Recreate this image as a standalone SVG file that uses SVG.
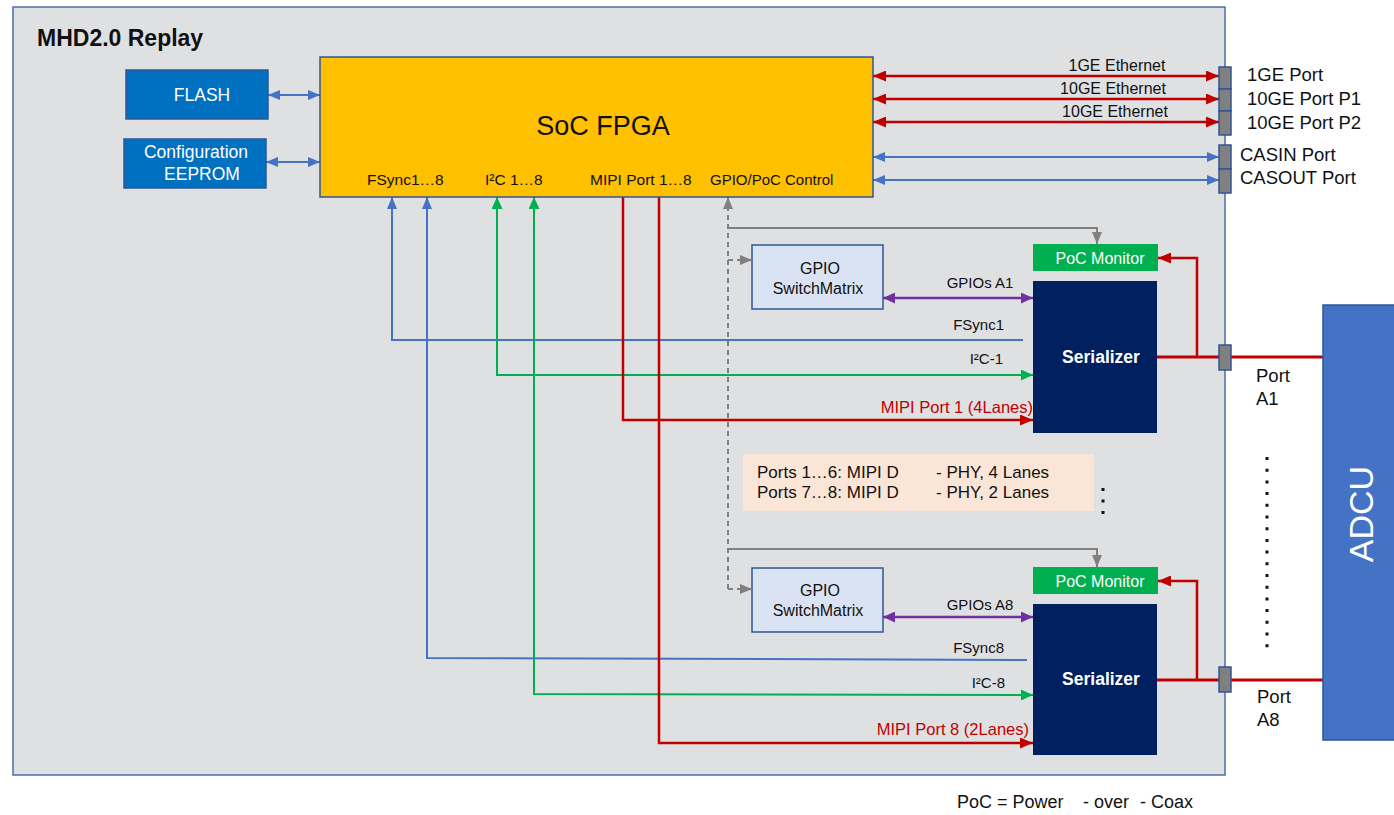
<svg xmlns="http://www.w3.org/2000/svg" width="1394" height="815" viewBox="0 0 1394 815">
  <style>
    text { font-family: "Liberation Sans", Arial, sans-serif; }
    .dark { fill: #111111; }
    .white { fill: #ffffff; }
    .lbl { font-size: 15px; fill: #111111; }
    .port { font-size: 18.5px; fill: #111111; }
    .blu { stroke: #4472c4; stroke-width: 2; fill: none; }
    .red { stroke: #c00000; stroke-width: 2.5; fill: none; }
    .grn { stroke: #00b050; stroke-width: 2; fill: none; }
    .gry { stroke: #808080; stroke-width: 2; fill: none; }
    .pur { stroke: #7030a0; stroke-width: 2.5; fill: none; }
    .conn { fill: #808080; stroke: #2f5597; stroke-width: 1.5; }
  </style>
  <defs>
    <marker id="hBlue" markerUnits="userSpaceOnUse" markerWidth="12" markerHeight="10" refX="12" refY="5" orient="auto-start-reverse"><path d="M0,0 L12,5 L0,10 z" fill="#4472c4"/></marker>
    <marker id="hRed" markerUnits="userSpaceOnUse" markerWidth="13" markerHeight="11" refX="13" refY="5.5" orient="auto-start-reverse"><path d="M0,0 L13,5.5 L0,11 z" fill="#c00000"/></marker>
    <marker id="hGreen" markerUnits="userSpaceOnUse" markerWidth="12" markerHeight="11" refX="12" refY="5.5" orient="auto-start-reverse"><path d="M0,0 L12,5.5 L0,11 z" fill="#00b050"/></marker>
    <marker id="hGray" markerUnits="userSpaceOnUse" markerWidth="12" markerHeight="10" refX="12" refY="5" orient="auto-start-reverse"><path d="M0,0 L12,5 L0,10 z" fill="#808080"/></marker>
    <marker id="hPurple" markerUnits="userSpaceOnUse" markerWidth="12" markerHeight="11" refX="12" refY="5.5" orient="auto-start-reverse"><path d="M0,0 L12,5.5 L0,11 z" fill="#7030a0"/></marker>
  </defs>

  <rect width="1394" height="815" fill="#ffffff"/>

  <!-- board enclosure -->
  <g id="board">
    <rect x="13" y="7" width="1212" height="768" fill="#dfe0e2" stroke="#4a6ea8" stroke-width="1.5"/>
    <text x="37" y="46" font-size="23" font-weight="bold" class="dark">MHD2.0 Replay</text>
  </g>

  <!-- connectors -->
  <g id="connectors">
    <!-- memories -->
    <line x1="268" y1="95" x2="320" y2="95" class="blu" stroke-width="1.5" marker-start="url(#hBlue)" marker-end="url(#hBlue)"/>
    <line x1="266" y1="162" x2="320" y2="162" class="blu" stroke-width="1.5" marker-start="url(#hBlue)" marker-end="url(#hBlue)"/>

    <!-- ethernet and cascade -->
    <line x1="873" y1="76" x2="1219" y2="76" class="red" marker-start="url(#hRed)" marker-end="url(#hRed)"/>
    <line x1="873" y1="99" x2="1219" y2="99" class="red" marker-start="url(#hRed)" marker-end="url(#hRed)"/>
    <line x1="873" y1="122" x2="1219" y2="122" class="red" marker-start="url(#hRed)" marker-end="url(#hRed)"/>
    <line x1="873" y1="157" x2="1219" y2="157" class="blu" marker-start="url(#hBlue)" marker-end="url(#hBlue)"/>
    <line x1="873" y1="180" x2="1219" y2="180" class="blu" marker-start="url(#hBlue)" marker-end="url(#hBlue)"/>

    <!-- FSync -->
    <polyline points="1023,340 392,340 392,197" class="blu" marker-end="url(#hBlue)"/>
    <polyline points="1027,660 427,658 427,197" class="blu" marker-end="url(#hBlue)"/>

    <!-- I2C -->
    <polyline points="1033,375 497,375 497,197" class="grn" marker-start="url(#hGreen)" marker-end="url(#hGreen)"/>
    <polyline points="1033,695 534,694 534,197" class="grn" marker-start="url(#hGreen)" marker-end="url(#hGreen)"/>

    <!-- MIPI -->
    <polyline points="623,197 623,420 1033,420" class="red" stroke-width="2" marker-end="url(#hRed)"/>
    <polyline points="659,197 659,743 1033,743" class="red" stroke-width="2" marker-end="url(#hRed)"/>

    <!-- GPIO / PoC control -->
    <line x1="728" y1="589" x2="728" y2="197" class="gry" stroke-dasharray="5 4" marker-end="url(#hGray)"/>
    <polyline points="728,228 1097,228 1097,244" class="gry" marker-end="url(#hGray)"/>
    <polyline points="728,549 1097,549 1097,567" class="gry" marker-end="url(#hGray)"/>
    <line x1="728" y1="260" x2="752" y2="260" class="gry" stroke-dasharray="5 4" marker-end="url(#hGray)"/>
    <line x1="728" y1="589" x2="752" y2="589" class="gry" stroke-dasharray="5 4" marker-end="url(#hGray)"/>

    <!-- GPIO switch matrix to serializer -->
    <line x1="883" y1="298" x2="1033" y2="298" class="pur" marker-start="url(#hPurple)" marker-end="url(#hPurple)"/>
    <line x1="883" y1="617" x2="1033" y2="617" class="pur" marker-start="url(#hPurple)" marker-end="url(#hPurple)"/>

    <!-- coax links and PoC sense -->
    <line x1="1157" y1="357" x2="1323" y2="357" stroke="#c00000" stroke-width="3"/>
    <line x1="1157" y1="680" x2="1323" y2="680" stroke="#c00000" stroke-width="3"/>
    <polyline points="1197,357 1197,258 1158,258" class="red" stroke-width="1.8" marker-end="url(#hRed)"/>
    <polyline points="1197,680 1197,581 1158,581" class="red" stroke-width="1.8" marker-end="url(#hRed)"/>

    <!-- connector labels -->
    <text x="1117" y="71" font-size="16" class="dark" text-anchor="middle">1GE Ethernet</text>
    <text x="1113" y="94" font-size="16" class="dark" text-anchor="middle">10GE Ethernet</text>
    <text x="1115" y="117" font-size="16" class="dark" text-anchor="middle">10GE Ethernet</text>
    <text x="980" y="288" class="lbl" text-anchor="middle">GPIOs A1</text>
    <text x="980" y="610" class="lbl" text-anchor="middle">GPIOs A8</text>
    <text x="1004" y="330" class="lbl" text-anchor="end">FSync1</text>
    <text x="1004" y="653" class="lbl" text-anchor="end">FSync8</text>
    <text x="1003" y="364" class="lbl" text-anchor="end">I²C-1</text>
    <text x="1005" y="688" class="lbl" text-anchor="end">I²C-8</text>
    <text x="1033" y="413" font-size="16.5" text-anchor="end" style="fill:#c00000">MIPI Port 1 (4Lanes)</text>
    <text x="1029" y="735" font-size="16.5" text-anchor="end" style="fill:#c00000">MIPI Port 8 (2Lanes)</text>
  </g>

  <!-- nodes -->
  <g id="flash">
    <rect x="126" y="70" width="142" height="49" fill="#0070c0" stroke="#2f5597" stroke-width="1.5"/>
    <text x="202" y="101" font-size="17.5" class="white" text-anchor="middle">FLASH</text>
  </g>
  <g id="eeprom">
    <rect x="124" y="139" width="142" height="49" fill="#0070c0" stroke="#2f5597" stroke-width="1.5"/>
    <text x="196" y="158" font-size="17.5" class="white" text-anchor="middle">Configuration</text>
    <text x="202" y="180" font-size="17.5" class="white" text-anchor="middle">EEPROM</text>
  </g>
  <g id="fpga">
    <rect x="320" y="57" width="553" height="140" fill="#ffc000" stroke="#2f5597" stroke-width="1.5"/>
    <text x="603" y="135" font-size="27" class="dark" text-anchor="middle">SoC FPGA</text>
    <text x="367" y="185" font-size="15.5" class="dark">FSync1…8</text>
    <text x="485" y="185" font-size="15.5" class="dark">I²C 1…8</text>
    <text x="590" y="185" font-size="15.5" class="dark">MIPI Port 1…8</text>
    <text x="710" y="185" font-size="15" class="dark">GPIO/PoC Control</text>
  </g>

  <g id="ports-eth">
    <rect x="1219" y="67" width="12" height="22" class="conn"/>
    <rect x="1219" y="89" width="12" height="22" class="conn"/>
    <rect x="1219" y="111" width="12" height="24" class="conn"/>
    <rect x="1219" y="145" width="12" height="24" class="conn"/>
    <rect x="1219" y="169" width="12" height="24" class="conn"/>
    <text x="1247" y="81" class="port">1GE Port</text>
    <text x="1247" y="105" class="port">10GE Port P1</text>
    <text x="1247" y="129" class="port">10GE Port P2</text>
    <text x="1240" y="161" class="port">CASIN Port</text>
    <text x="1240" y="184" class="port">CASOUT Port</text>
  </g>

  <g id="gpio-matrix-a1">
    <rect x="752" y="245" width="131" height="64" fill="#dae3f3" stroke="#2f5597" stroke-width="1.5"/>
    <text x="820" y="274" font-size="16" class="dark" text-anchor="middle">GPIO</text>
    <text x="818" y="294" font-size="16" class="dark" text-anchor="middle">SwitchMatrix</text>
  </g>
  <g id="poc-monitor-a1">
    <rect x="1033" y="244" width="125" height="27" fill="#00b050"/>
    <text x="1100" y="264" font-size="16" class="white" text-anchor="middle">PoC Monitor</text>
  </g>
  <g id="serializer-a1">
    <rect x="1033" y="281" width="124" height="152" fill="#002060"/>
    <text x="1101" y="363" font-size="17.5" font-weight="bold" class="white" text-anchor="middle">Serializer</text>
  </g>
  <g id="port-a1">
    <rect x="1219" y="345" width="12" height="25" class="conn"/>
    <text x="1256" y="382" font-size="18.5" class="dark">Port</text>
    <text x="1256" y="405" font-size="18.5" class="dark">A1</text>
  </g>

  <g id="gpio-matrix-a8">
    <rect x="752" y="568" width="131" height="64" fill="#dae3f3" stroke="#2f5597" stroke-width="1.5"/>
    <text x="820" y="596" font-size="16" class="dark" text-anchor="middle">GPIO</text>
    <text x="818" y="616" font-size="16" class="dark" text-anchor="middle">SwitchMatrix</text>
  </g>
  <g id="poc-monitor-a8">
    <rect x="1033" y="567" width="125" height="27" fill="#00b050"/>
    <text x="1100" y="587" font-size="16" class="white" text-anchor="middle">PoC Monitor</text>
  </g>
  <g id="serializer-a8">
    <rect x="1033" y="604" width="124" height="151" fill="#002060"/>
    <text x="1101" y="685" font-size="17.5" font-weight="bold" class="white" text-anchor="middle">Serializer</text>
  </g>
  <g id="port-a8">
    <rect x="1219" y="667" width="12" height="25" class="conn"/>
    <text x="1257" y="703" font-size="18.5" class="dark">Port</text>
    <text x="1257" y="726" font-size="18.5" class="dark">A8</text>
  </g>

  <g id="note">
    <rect x="743" y="454" width="351" height="57" fill="#fbe5d6"/>
    <text x="757" y="478" font-size="17" class="dark">Ports 1…6: MIPI D</text>
    <text x="936" y="478" font-size="17" class="dark">- PHY, 4 Lanes</text>
    <text x="757" y="498" font-size="17" class="dark">Ports 7…8: MIPI D</text>
    <text x="936" y="498" font-size="17" class="dark">- PHY, 2 Lanes</text>
    <line x1="1103" y1="488" x2="1103" y2="517" stroke="#111111" stroke-width="3" stroke-dasharray="3 8.5"/>
  </g>

  <g id="adcu">
    <rect x="1323" y="305" width="80" height="435" fill="#4472c4" stroke="#2f5597" stroke-width="1.5"/>
    <text x="0" y="0" font-size="34" class="white" text-anchor="middle" transform="translate(1373,514) rotate(-90)">ADCU</text>
  </g>

  <line x1="1267" y1="457" x2="1267" y2="648" stroke="#111111" stroke-width="3" stroke-dasharray="3 8.7"/>

  <text y="808" font-size="18" class="dark"><tspan x="957">PoC = Power</tspan><tspan x="1083">- over</tspan><tspan x="1140">- Coax</tspan></text>
</svg>
